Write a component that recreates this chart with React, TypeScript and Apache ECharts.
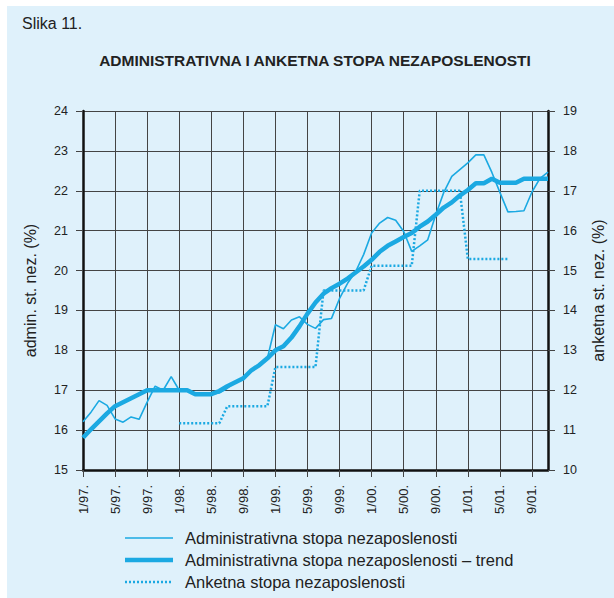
import React, { useEffect, useRef } from "react";
import * as echarts from "echarts";

const categories = [
  "1/97.", "2/97.", "3/97.", "4/97.", "5/97.", "6/97.", "7/97.", "8/97.", "9/97.", "10/97.", "11/97.", "12/97.",
  "1/98.", "2/98.", "3/98.", "4/98.", "5/98.", "6/98.", "7/98.", "8/98.", "9/98.", "10/98.", "11/98.", "12/98.",
  "1/99.", "2/99.", "3/99.", "4/99.", "5/99.", "6/99.", "7/99.", "8/99.", "9/99.", "10/99.", "11/99.", "12/99.",
  "1/00.", "2/00.", "3/00.", "4/00.", "5/00.", "6/00.", "7/00.", "8/00.", "9/00.", "10/00.", "11/00.", "12/00.",
  "1/01.", "2/01.", "3/01.", "4/01.", "5/01.", "6/01.", "7/01.", "8/01.", "9/01.", "10/01.", "11/01."
];

const adminRate = [
  16.21, 16.45, 16.74, 16.62, 16.28, 16.2, 16.33, 16.27, 16.7, 17.1, 17.0, 17.34,
  17.0, 17.0, 16.9, 16.9, 16.9, 16.93, 17.05, 17.2, 17.3, 17.5, 17.65, 17.8,
  18.64, 18.54, 18.76, 18.84, 18.65, 18.55, 18.77, 18.8, 19.3, 19.68, 19.97, 20.4,
  20.94, 21.19, 21.33, 21.26, 20.98, 20.48, 20.62, 20.77, 21.4, 21.96, 22.36, 22.53,
  22.7, 22.9, 22.9, 22.46, 21.96, 21.47, 21.48, 21.5, 21.97, 22.31, 22.47
];

const adminTrend = [
  15.81, 16.02, 16.22, 16.42, 16.6, 16.7, 16.8, 16.9, 17.0, 17.0, 17.0, 17.0,
  17.0, 17.0, 16.9, 16.9, 16.9, 16.98, 17.1, 17.2, 17.3, 17.5, 17.63, 17.8,
  18.0, 18.1, 18.32, 18.6, 18.92, 19.2, 19.42, 19.56, 19.67, 19.8, 19.95, 20.1,
  20.27, 20.47, 20.62, 20.73, 20.84, 20.94, 21.1, 21.23, 21.4, 21.58, 21.71, 21.88,
  22.02, 22.19, 22.19, 22.3, 22.2, 22.2, 22.2, 22.3, 22.3, 22.3, 22.3
];

const surveyRate = [
  null, null, null, null, null, null, null, null, null, null, null, null,
  11.17, 11.17, 11.17, 11.17, 11.17, 11.17, 11.6, 11.6, 11.6, 11.6, 11.6, 11.6,
  12.58, 12.58, 12.58, 12.58, 12.58, 12.58, 14.5, 14.5, 14.5, 14.5, 14.5, 14.5,
  15.12, 15.12, 15.12, 15.12, 15.12, 15.12, 17.0, 17.0, 17.0, 17.0, 17.0, 17.0,
  15.29, 15.29, 15.29, 15.29, 15.29, 15.29, null, null, null, null, null
];

const seriesNames = [
  "Administrativna stopa nezaposlenosti",
  "Administrativna stopa nezaposlenosti – trend",
  "Anketna stopa nezaposlenosti"
];

const figureLabel = "Slika 11.";
const chartTitle = "ADMINISTRATIVNA I ANKETNA STOPA NEZAPOSLENOSTI";
const leftAxisName = "admin. st. nez. (%)";
const rightAxisName = "anketna st. nez. (%)";

const BLUE = "#1ba9e2";
const FONT = "'Liberation Sans', Arial, Helvetica, sans-serif";
const TEXT = "#222";
const GRID = "#444";

export default function App() {
  const ref = useRef<HTMLDivElement>(null);

  useEffect(() => {
    const chart = echarts.init(ref.current!, null, { renderer: "svg" });
    const legendY = [538, 560, 582];
    const legendWidths = [1.6, 4.5, 2.5];
    const legendDash: any[] = [null, null, [2, 2]];
    const legendGraphics: any[] = [];
    seriesNames.forEach((n, i) => {
      legendGraphics.push({
        type: "line",
        shape: { x1: 125, y1: legendY[i], x2: 173, y2: legendY[i] },
        style: { stroke: BLUE, lineWidth: legendWidths[i], lineDash: legendDash[i] }
      });
      legendGraphics.push({
        type: "text",
        x: 185,
        y: legendY[i],
        style: { text: n, fill: TEXT, font: `16.5px ${FONT}`, textVerticalAlign: "middle", textAlign: "left" }
      });
    });

    chart.setOption({
      animation: false,
      backgroundColor: "transparent",
      textStyle: { fontFamily: FONT },
      grid: { left: 83, right: 59, top: 111, bottom: 128, containLabel: false },
      xAxis: {
        type: "category",
        data: categories,
        boundaryGap: false,
        axisLine: { show: true, lineStyle: { color: "#111", width: 2.5 } },
        axisTick: { show: true, interval: 3, length: 7, lineStyle: { color: GRID, width: 1 } },
        axisLabel: { interval: 3, rotate: 90, margin: 15, color: TEXT, fontSize: 13, fontFamily: FONT },
        splitLine: { show: true, interval: 3, lineStyle: { color: GRID, width: 1 } }
      },
      yAxis: [
        {
          type: "value",
          min: 15,
          max: 24,
          interval: 1,
          position: "left",
          name: leftAxisName,
          nameLocation: "middle",
          nameGap: 45,
          nameRotate: 90,
          nameTextStyle: { color: TEXT, fontSize: 16, fontFamily: FONT },
          axisLine: { show: true, lineStyle: { color: "#111", width: 2.5 } },
          axisTick: { show: true, length: 7, lineStyle: { color: GRID, width: 1 } },
          axisLabel: { margin: 15, color: TEXT, fontSize: 12.5, fontFamily: FONT },
          splitLine: { show: true, lineStyle: { color: GRID, width: 1 } }
        },
        {
          type: "value",
          min: 10,
          max: 19,
          interval: 1,
          position: "right",
          name: rightAxisName,
          nameLocation: "middle",
          nameGap: 42,
          nameRotate: 90,
          nameTextStyle: { color: TEXT, fontSize: 16, fontFamily: FONT },
          axisLine: { show: true, lineStyle: { color: "#111", width: 2.5 } },
          axisTick: { show: true, length: 7, lineStyle: { color: GRID, width: 1 } },
          axisLabel: { margin: 15, color: TEXT, fontSize: 12.5, fontFamily: FONT },
          splitLine: { show: false }
        }
      ],
      series: [
        {
          name: seriesNames[2],
          type: "line",
          yAxisIndex: 1,
          data: surveyRate,
          symbol: "none",
          connectNulls: false,
          lineStyle: { color: BLUE, width: 2.5, type: [2, 2] },
          z: 3
        },
        {
          name: seriesNames[0],
          type: "line",
          yAxisIndex: 0,
          data: adminRate,
          symbol: "none",
          lineStyle: { color: BLUE, width: 1.6 },
          z: 4
        },
        {
          name: seriesNames[1],
          type: "line",
          yAxisIndex: 0,
          data: adminTrend,
          symbol: "none",
          lineStyle: { color: BLUE, width: 4.5 },
          z: 5
        }
      ],
      graphic: [
        {
          type: "text",
          x: 22,
          y: 23,
          style: { text: figureLabel, fill: TEXT, font: `16px ${FONT}`, textVerticalAlign: "middle" }
        },
        {
          type: "text",
          x: 315,
          y: 60,
          style: { text: chartTitle, fill: TEXT, font: `bold 15.5px ${FONT}`, textAlign: "center", textVerticalAlign: "middle" }
        },
        ...legendGraphics
      ]
    });
    return () => chart.dispose();
  }, []);

  return (
    <div style={{ position: "fixed", left: 0, top: 0, width: 614, height: 598, background: "#fff" }}>
      <div style={{ position: "absolute", left: 7, top: 6, width: 607, height: 592, background: "#dff1fb" }} />
      <div ref={ref} style={{ position: "absolute", left: 0, top: 0, width: 614, height: 598 }} />
    </div>
  );
}
